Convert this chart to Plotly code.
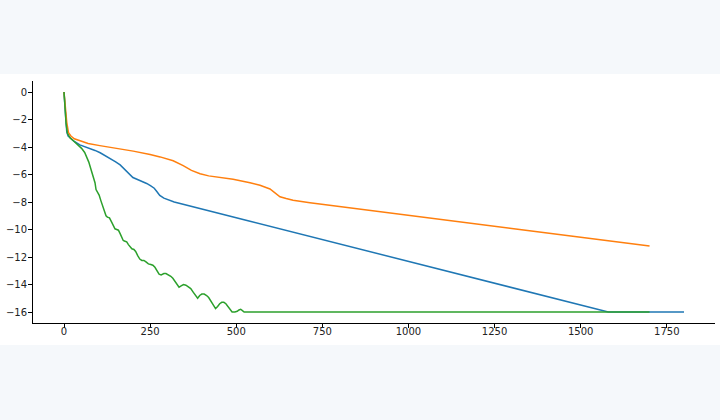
import plotly.graph_objects as go

# Blue series
blue_x = [0, 4, 8, 12, 20, 30, 46, 60, 75, 90, 105, 120, 135, 150, 163, 175, 185, 193, 200, 210, 225, 240, 252, 262, 270, 278, 290, 305, 320,
          540, 800, 1000, 1200, 1400, 1580, 1800]
blue_y = [0, -1.5, -2.9, -3.2, -3.4, -3.6, -3.85, -3.97, -4.1, -4.25, -4.42, -4.62, -4.85, -5.08, -5.3, -5.6, -5.9, -6.1, -6.22, -6.33, -6.48, -6.65, -6.82, -7.0, -7.25, -7.52, -7.72, -7.88, -8.0,
          -9.4, -11.05, -12.3, -13.57, -14.85, -16.0, -16.0]

# Orange series
orange_x = [0, 4, 8, 13, 20, 30, 46, 70, 104, 143, 201, 250, 279, 317, 346, 370, 395, 420, 491, 540, 569, 598, 615, 627, 645, 665, 714,
            900, 1100, 1300, 1500, 1700]
orange_y = [0, -1.2, -2.2, -2.95, -3.2, -3.4, -3.55, -3.75, -3.9, -4.05, -4.3, -4.55, -4.72, -5.0, -5.35, -5.7, -5.95, -6.1, -6.35, -6.6, -6.78, -7.05, -7.35, -7.62, -7.75, -7.88, -8.05,
            -8.63, -9.28, -9.92, -10.56, -11.2]

# Green series
green_x = [0, 3, 6, 10, 18, 27, 40, 51, 60, 66, 72, 78, 85, 90, 93, 97, 102, 107, 112, 118, 122, 126, 132, 138, 143, 148, 153, 158,
           163, 168, 172, 177, 182, 187, 192, 197, 203, 208, 214, 220, 226, 232, 238, 245, 252, 258, 264, 270, 276, 282, 290, 296,
           303, 310, 316, 322, 328, 334, 340, 347, 354, 361, 368, 375, 382, 388, 394, 400, 407, 414, 420, 427, 434, 440, 446, 452,
           458, 464, 470, 476, 482, 488, 496, 503, 508, 513, 518, 523, 1700]
green_y = [0, -1.2, -2.3, -3.0, -3.35, -3.55, -3.85, -4.1, -4.4, -4.7, -5.1, -5.6, -6.1, -6.6, -7.1, -7.3, -7.5, -7.9, -8.3, -8.6, -9.0, -9.1, -9.15, -9.45, -9.7, -9.95, -10.0, -10.05,
           -10.3, -10.6, -10.8, -10.85, -10.9, -11.1, -11.3, -11.4, -11.45, -11.6, -11.9, -12.15, -12.25, -12.25, -12.35, -12.5, -12.55, -12.6, -12.75, -13.0, -13.25, -13.3, -13.2, -13.2,
           -13.3, -13.4, -13.55, -13.8, -14.05, -14.2, -14.1, -14.0, -14.05, -14.15, -14.3, -14.55, -14.85, -15.0, -14.8, -14.7, -14.7, -14.8, -14.95, -15.2, -15.5, -15.75, -15.6, -15.4,
           -15.3, -15.3, -15.4, -15.6, -15.85, -16.0, -16.0, -15.95, -15.85, -15.8, -15.9, -16.0, -16.0]

x_ticks = [0, 250, 500, 750, 1000, 1250, 1500, 1750]
y_ticks = [0, -2, -4, -6, -8, -10, -12, -14, -16]

fig = go.Figure()
fig.add_trace(go.Scatter(x=blue_x, y=blue_y, mode="lines", line=dict(color="#1f77b4", width=1.5), showlegend=False))
fig.add_trace(go.Scatter(x=orange_x, y=orange_y, mode="lines", line=dict(color="#ff7f0e", width=1.5), showlegend=False))
fig.add_trace(go.Scatter(x=green_x, y=green_y, mode="lines", line=dict(color="#2ca02c", width=1.5), showlegend=False))

W, H = 720, 420
L, R, T, B = 33, 5, 81, 97
ph = H - T - B
pw = W - L - R

fig.add_shape(type="rect", xref="paper", yref="paper",
              x0=-L / pw - 0.01, x1=1 + R / pw + 0.01,
              y0=(H - B - 345) / ph, y1=(H - B - 74) / ph,
              fillcolor="white", line=dict(width=0), layer="below")

axis_common = dict(showgrid=False, zeroline=False, showline=True, linecolor="black", linewidth=1,
                   ticks="outside", ticklen=4, tickwidth=1, tickcolor="black",
                   tickfont=dict(family="DejaVu Sans", size=10, color="#222"), mirror=False)

fig.update_layout(
    width=W, height=H,
    margin=dict(l=L, r=R, t=T, b=B, pad=0),
    paper_bgcolor="#f5f8fb",
    plot_bgcolor="white",
    xaxis=dict(range=[-90, 1890], tickvals=x_ticks, ticklabelstandoff=-5, **axis_common),
    yaxis=dict(range=[-16.8, 0.8], tickvals=y_ticks, ticklabelstandoff=-1, **axis_common),
)

fig.write_html("out.html", config={"displayModeBar": False},
               post_script="document.body.style.margin='0';document.body.style.overflow='hidden';document.body.style.background='#f5f8fb';")
